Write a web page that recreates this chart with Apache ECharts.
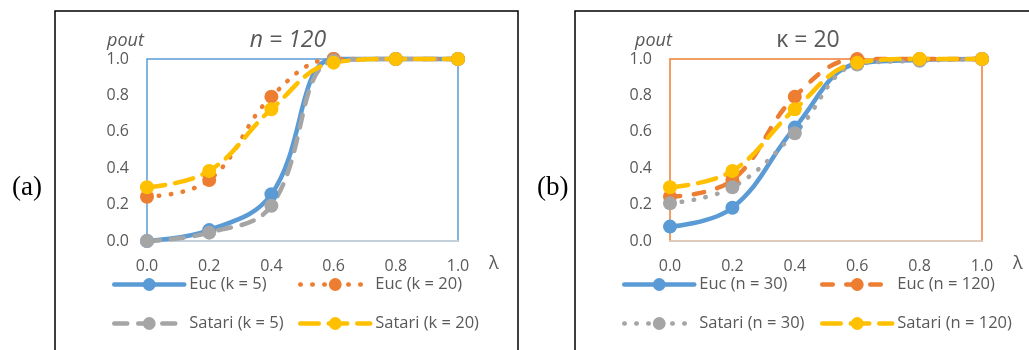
<!DOCTYPE html>
<html>
<head>
<meta charset="utf-8">
<script src="https://cdn.jsdelivr.net/npm/echarts@6/dist/echarts.min.js"></script>
<style>
html,body{margin:0;padding:0;background:#fff;}
#c{width:1029px;height:350px;}
</style>
</head>
<body>
<div id="c"></div>
<script>
// ---- data ----
const lambdas = [0.0, 0.2, 0.4, 0.6, 0.8, 1.0];
const yTicks = [0.0, 0.2, 0.4, 0.6, 0.8, 1.0];

// (a) n = 120
const eucK5     = [0.00, 0.06, 0.257, 1.00, 1.00, 1.00];
const eucK20    = [0.243, 0.335, 0.793, 1.00, 1.00, 1.00];
const satariK5  = [0.00, 0.046, 0.194, 0.99, 1.00, 1.00];
const satariK20 = [0.295, 0.385, 0.724, 0.98, 1.00, 1.00];

// (b) kappa = 20
const eucN30     = [0.079, 0.183, 0.623, 0.975, 0.995, 1.00];
const eucN120    = [0.243, 0.335, 0.793, 1.00, 1.00, 1.00];
const satariN30  = [0.207, 0.295, 0.592, 0.97, 0.99, 1.00];
const satariN120 = [0.295, 0.385, 0.724, 0.98, 1.00, 1.00];

const BLUE = '#5B9BD5', ORANGE = '#ED7D31', GRAY = '#A5A5A5', YELLOW = '#FFC000';
const TXT = '#595959';
const FONT = 'Open Sans';

function pairs(vals){ return lambdas.map((x,i)=>[x, vals[i]]); }

function xAxis(gi){
  return {
    gridIndex: gi, type:'value', min:0, max:1, interval:0.2,
    axisLine:{show:true, lineStyle:{color:'#D9D9D9', width:1.5}},
    axisTick:{show:false}, splitLine:{show:false},
    axisLabel:{color:TXT, fontSize:16, fontFamily:FONT, margin:17, formatter:v=>v.toFixed(1)},
    name:'λ', nameLocation:'end', nameGap:31,
    nameTextStyle:{color:TXT, fontSize:18, fontFamily:FONT, verticalAlign:'top', padding:[14,0,0,0]}
  };
}
function yAxis(gi, shift){
  return {
    gridIndex: gi, type:'value', min:0, max:1, interval:0.2,
    axisLine:{show:false}, axisTick:{show:false}, splitLine:{show:false},
    axisLabel:{color:TXT, fontSize:16, fontFamily:FONT, margin:18, formatter:v=>v.toFixed(1)},
    name:'pout', nameLocation:'end', nameGap:9,
    nameTextStyle:{color:TXT, fontSize:18, fontStyle:'italic', fontFamily:FONT, align:'center', padding:[0,shift,0,0]}
  };
}
function line(name, gi, vals, color, type, cap){
  return {
    name, type:'line', xAxisIndex:gi, yAxisIndex:gi, data:pairs(vals),
    smooth:0.4, clip:false, symbol:'circle', symbolSize:14,
    itemStyle:{color},
    lineStyle:{color, width:4.5, type, cap: cap || 'round'},
    emphasis:{disabled:true}
  };
}
function legend(name, left, top){
  return {
    data:[name], left, top, itemWidth:70, itemHeight:16, itemGap:0,
    lineStyle:{width:4.5},
    textStyle:{color:TXT, fontSize:16.5, fontFamily:FONT},
    selectedMode:false
  };
}

const option = {
  animation:false,
  grid:[
    {left:147, top:59, width:311, height:182, show:true, borderColor:BLUE, borderWidth:1.5, backgroundColor:'#fff'},
    {left:670, top:59, width:312, height:182, show:true, borderColor:ORANGE, borderWidth:1.5, backgroundColor:'#fff'}
  ],
  xAxis:[xAxis(0), xAxis(1)],
  yAxis:[yAxis(0, 43), yAxis(1, 33)],
  legend:[
    legend('Euc (k = 5)', 107, 271),
    legend('Euc (k = 20)', 293, 271),
    legend('Satari (k = 5)', 107, 310),
    legend('Satari (k = 20)', 293, 310),
    legend('Euc (n = 30)', 617, 271),
    legend('Euc (n = 120)', 815, 271),
    legend('Satari (n = 30)', 617, 310),
    legend('Satari (n = 120)', 815, 310)
  ],
  series:[
    line('Euc (k = 5)', 0, eucK5, BLUE, 'solid'),
    line('Euc (k = 20)', 0, eucK20, ORANGE, [0.5, 11.5]),
    line('Satari (k = 5)', 0, satariK5, GRAY, [13, 11]),
    line('Satari (k = 20)', 0, satariK20, YELLOW, [18.5, 10]),
    line('Euc (n = 30)', 1, eucN30, BLUE, 'solid'),
    line('Euc (n = 120)', 1, eucN120, ORANGE, [10.5, 13.5]),
    line('Satari (n = 30)', 1, satariN30, GRAY, [0.5, 11.5]),
    line('Satari (n = 120)', 1, satariN120, YELLOW, [18.5, 10])
  ],
  graphic:[
    {type:'rect', z:-10, shape:{x:55, y:11, width:463, height:400}, style:{fill:null, stroke:'#000', lineWidth:1.5}},
    {type:'rect', z:-10, shape:{x:575, y:11, width:500, height:400}, style:{fill:null, stroke:'#000', lineWidth:1.5}},
    {type:'text', x:12, y:188, style:{text:'(a)', font:'27px "Liberation Serif"', fill:'#000', verticalAlign:'middle'}},
    {type:'text', x:537, y:188, style:{text:'(b)', font:'27px "Liberation Serif"', fill:'#000', verticalAlign:'middle'}},
    {type:'text', x:288, y:40, style:{text:'n = 120', font:'italic 23px "Open Sans"', fill:TXT, align:'center', verticalAlign:'middle'}},
    {type:'text', x:808, y:40, style:{text:'κ = 20', font:'23px "Open Sans"', fill:TXT, align:'center', verticalAlign:'middle'}}
  ]
};

const chart = echarts.init(document.getElementById('c'), null, {renderer:'canvas'});
chart.setOption(option);
</script>
</body>
</html>
